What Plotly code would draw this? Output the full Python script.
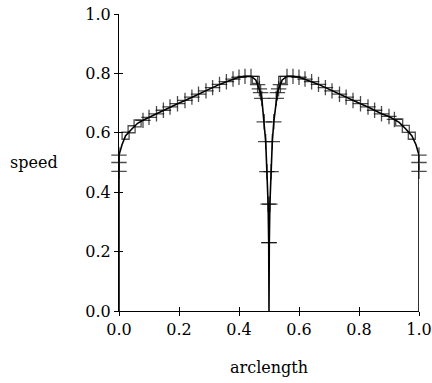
import plotly.graph_objects as go

# arclength (x), speed (y), marker kind per point ('+' cross, 's' square, '' none)
arclength = [0.0, 0.0, 0.0, 0.0, 0.01, 0.022, 0.042, 0.062, 0.08, 0.10, 0.125, 0.148, 0.17, 0.195,
             0.22, 0.243, 0.265, 0.29, 0.312, 0.335, 0.358, 0.38, 0.40, 0.42, 0.44, 0.456,
             0.462, 0.468, 0.472, 0.476, 0.484, 0.489, 0.493, 0.497, 0.499, 0.5,
             0.501, 0.503, 0.507, 0.511, 0.516, 0.524, 0.528, 0.532, 0.538, 0.544,
             0.56, 0.58, 0.60, 0.62, 0.642, 0.665, 0.688, 0.71, 0.735, 0.757, 0.78,
             0.805, 0.83, 0.852, 0.875, 0.90, 0.918, 0.934, 0.956, 0.976, 0.99,
             1.0, 1.0, 1.0, 1.0]
speed = [0.0, 0.47, 0.50, 0.525, 0.56, 0.59, 0.612, 0.632, 0.642, 0.652, 0.664, 0.676, 0.687, 0.698,
         0.709, 0.72, 0.73, 0.741, 0.752, 0.763, 0.772, 0.781, 0.787, 0.79, 0.79, 0.778,
         0.762, 0.748, 0.735, 0.716, 0.637, 0.57, 0.469, 0.36, 0.23, 0.0,
         0.23, 0.36, 0.469, 0.57, 0.637, 0.716, 0.735, 0.748, 0.762, 0.778,
         0.79, 0.79, 0.787, 0.781, 0.772, 0.763, 0.752, 0.741, 0.73, 0.72, 0.709,
         0.698, 0.687, 0.676, 0.664, 0.655, 0.645, 0.635, 0.613, 0.59, 0.56,
         0.525, 0.50, 0.47, 0.0]
marks = ['', '+', '+', '+', '', 's', 's', 's', '+', '+', '+', '+', '+', '+',
         '+', '+', '+', '+', '+', '+', '+', '+', '+', '+', '+', 's',
         '+', '+', '+', '+', '+', '+', '+', '+', '+', '',
         '+', '+', '+', '+', '+', '+', '+', '+', '+', 's',
         '+', '+', '+', '+', '+', '+', '+', '+', '+', '+', '+',
         '+', '+', '+', '+', '+', '+', 's', 's', 's', '',
         '+', '+', '+', '']

x_ticks = [0.0, 0.2, 0.4, 0.6, 0.8, 1.0]
y_ticks = [0.0, 0.2, 0.4, 0.6, 0.8, 1.0]
tick_text = ["0.0", "0.2", "0.4", "0.6", "0.8", "1.0"]

FONT = "DejaVu Serif"

sym_map = {'+': 'cross-thin-open', 's': 'square-open', '': 'circle'}
size_map = {'+': 11, 's': 7, '': 0}

fig = go.Figure()
fig.add_trace(go.Scatter(x=arclength, y=speed, mode="lines",
                         line=dict(color="black", width=1.6), cliponaxis=False,
                         showlegend=False, hoverinfo="skip"))
fig.add_trace(go.Scatter(x=arclength, y=speed, mode="markers", cliponaxis=False,
                         marker=dict(symbol=[sym_map[m] for m in marks],
                                     size=[size_map[m] for m in marks],
                                     color="black",
                                     line=dict(color="black", width=1.3)),
                         showlegend=False))

axis_common = dict(showgrid=False, zeroline=False, linecolor="black", linewidth=1.2,
                   tickcolor="black", tickwidth=1, ticklen=4, automargin=False,
                   tickfont=dict(family=FONT, size=16, color="black"))

fig.update_layout(
    width=432, height=383,
    margin=dict(l=119, r=13, t=14, b=72, autoexpand=False),
    paper_bgcolor="white", plot_bgcolor="white",
    xaxis=dict(range=[0, 1], tickvals=x_ticks, ticktext=tick_text, ticks="outside",
               showline=True, **axis_common),
    yaxis=dict(range=[0, 1], tickvals=y_ticks, ticktext=tick_text, ticks="outside",
               showline=True, **axis_common),
    xaxis2=dict(range=[0, 1], overlaying="x", tickvals=x_ticks, ticks="inside",
                showticklabels=False, showline=False, showgrid=False, zeroline=False,
                tickcolor="black", tickwidth=1, ticklen=4, automargin=False),
    yaxis2=dict(range=[0, 1], overlaying="y", tickvals=y_ticks, ticks="inside",
                showticklabels=False, showline=False, showgrid=False, zeroline=False,
                tickcolor="black", tickwidth=1, ticklen=4, automargin=False),
    annotations=[
        dict(text="speed", xref="paper", yref="paper", x=-0.285, y=0.5,
             xanchor="center", yanchor="middle", showarrow=False,
             font=dict(family=FONT, size=16, color="black")),
        dict(text="arclength", xref="paper", yref="paper", x=0.5, y=-0.19,
             xanchor="center", yanchor="middle", showarrow=False,
             font=dict(family=FONT, size=16, color="black")),
    ],
)
# dummy invisible trace to activate the overlay axes for inside ticks
fig.add_trace(go.Scatter(x=[0], y=[0], xaxis="x2", yaxis="y2", mode="markers",
                         marker=dict(size=0, opacity=0), showlegend=False, hoverinfo="skip"))

fig.write_html("out.html")
